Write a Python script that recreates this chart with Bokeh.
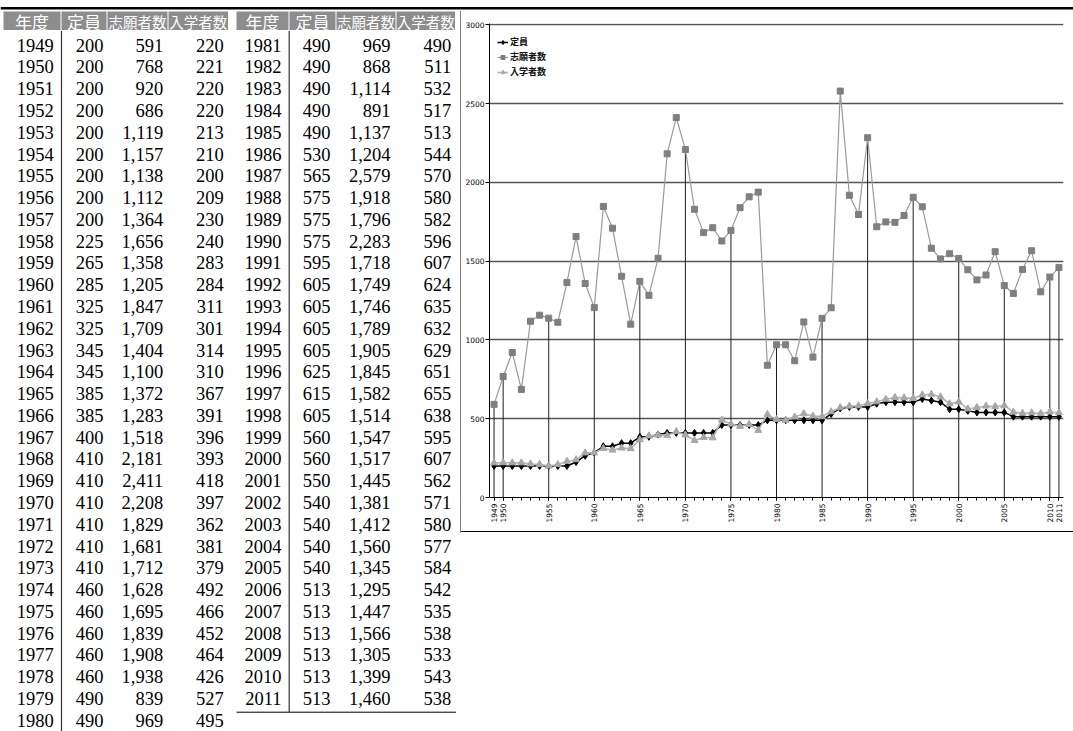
from math import pi

from bokeh.core.properties import value
from bokeh.embed import file_html
from bokeh.layouts import column, row
from bokeh.models import ColumnDataSource, Div, FixedTicker, Legend, LegendItem, Range1d
from bokeh.plotting import figure
from bokeh.resources import INLINE

# ---- data -------------------------------------------------------------
years = list(range(1949, 2012))
teiin = [200, 200, 200, 200, 200, 200, 200, 200, 200, 225, 265, 285, 325, 325, 345, 345,
         385, 385, 400, 410, 410, 410, 410, 410, 410, 460, 460, 460, 460, 460, 490, 490,
         490, 490, 490, 490, 490, 530, 565, 575, 575, 575, 595, 605, 605, 605, 605, 625,
         615, 605, 560, 560, 550, 540, 540, 540, 540, 513, 513, 513, 513, 513, 513]
shigan = [591, 768, 920, 686, 1119, 1157, 1138, 1112, 1364, 1656, 1358, 1205, 1847, 1709,
          1404, 1100, 1372, 1283, 1518, 2181, 2411, 2208, 1829, 1681, 1712, 1628, 1695,
          1839, 1908, 1938, 839, 969, 969, 868, 1114, 891, 1137, 1204, 2579, 1918, 1796,
          2283, 1718, 1749, 1746, 1789, 1905, 1845, 1582, 1514, 1547, 1517, 1445, 1381,
          1412, 1560, 1345, 1295, 1447, 1566, 1305, 1399, 1460]
nyugaku = [220, 221, 220, 220, 213, 210, 200, 209, 230, 240, 283, 284, 311, 301, 314, 310,
           367, 391, 396, 393, 418, 397, 362, 381, 379, 492, 466, 452, 464, 426, 527, 495,
           490, 511, 532, 517, 513, 544, 570, 580, 582, 596, 607, 624, 635, 632, 629, 651,
           655, 638, 595, 607, 562, 571, 580, 577, 584, 542, 535, 538, 533, 543, 538]

headers = ["年度", "定員", "志願者数", "入学者数"]
series_names = ["定員", "志願者数", "入学者数"]
labeled_years = [1949, 1950, 1955, 1960, 1965, 1970, 1975, 1980, 1985, 1990, 1995,
                 2000, 2005, 2010, 2011]
y_ticks = [0, 500, 1000, 1500, 2000, 2500, 3000]

# ---- page geometry ----------------------------------------------------
PAGE_W, PAGE_H = 1073, 731
TOP_H = 10
TABLE_W = 461
CHART_W = PAGE_W - TABLE_W
CHART_H = 521

SERIF = value("Liberation Serif")
GOTHIC = value("Noto Sans CJK JP")


def blank(width, height, x_end, y_start, y_end):
    f = figure(width=width, height=height, x_range=Range1d(0, x_end),
               y_range=Range1d(y_start, y_end), output_backend="svg",
               toolbar_location=None, x_axis_location=None, y_axis_location=None,
               min_border=0, outline_line_color=None)
    f.grid.visible = False
    return f


# ---- double rule across the top ---------------------------------------
top = blank(PAGE_W, TOP_H, PAGE_W, TOP_H, 0)
top.segment(x0=[0], x1=[PAGE_W], y0=[5.8], y1=[5.8], line_color="black", line_width=2.4)
top.segment(x0=[0], x1=[PAGE_W], y0=[9.5], y1=[9.5], line_color="black", line_width=1)

# ---- table ------------------------------------------------------------
tbl = blank(TABLE_W, PAGE_H - TOP_H, TABLE_W, PAGE_H, TOP_H)

halves = [
    dict(rows=range(0, 32), edges=[3, 61, 107, 168, 228.5],
         right=[53.3, 103, 162.7, 223.3], div_x=61, div_end=PAGE_H),
    dict(rows=range(32, 63), edges=[236, 289, 336, 396, 455.5],
         right=[281, 330, 390, 450.7], div_x=288.7, div_end=711.7),
]
ROW0, ROW_H = 44.6, 21.78
HDR_TOP, HDR_BOT, HDR_Y = 11, 29.5, 20.5

for h in halves:
    e = h["edges"]
    tbl.quad(left=e[:-1], right=[v - 1 for v in e[1:]], top=HDR_TOP, bottom=HDR_BOT,
             fill_color="#8d8d8d", line_color=None)
    centers = [(a + b - 1) / 2 for a, b in zip(e[:-1], e[1:])]
    tbl.text(x=centers[:2], y=HDR_Y, text=headers[:2], text_align="center",
             text_baseline="middle", text_color="white", text_font=GOTHIC,
             text_font_size="17px")
    tbl.text(x=centers[2:], y=HDR_Y, text=headers[2:], text_align="center",
             text_baseline="middle", text_color="white", text_font=GOTHIC,
             text_font_size="14.5px")
    idx = list(h["rows"])
    ys = [ROW0 + k * ROW_H for k in range(len(idx))]
    cols = [[str(years[i]) for i in idx],
            [f"{teiin[i]:,}" for i in idx],
            [f"{shigan[i]:,}" for i in idx],
            [f"{nyugaku[i]:,}" for i in idx]]
    for c, texts in enumerate(cols):
        src = ColumnDataSource(dict(x=[h["right"][c]] * len(texts), y=ys, t=texts))
        tbl.text(x="x", y="y", text="t", source=src, text_align="right",
                 text_baseline="middle", text_color="black", text_font=SERIF,
                 text_font_size="18.5px")
    tbl.segment(x0=[h["div_x"]], x1=[h["div_x"]], y0=[HDR_BOT + 1], y1=[h["div_end"]],
                line_color="#333333", line_width=1.2)

# closing rule under the right half, and the chart frame's left edge
tbl.segment(x0=[236], x1=[455.5], y0=[711.7], y1=[711.7], line_color="black", line_width=1)
tbl.segment(x0=[460.5], x1=[460.5], y0=[TOP_H], y1=[532], line_color="black", line_width=1)

# ---- chart ------------------------------------------------------------
p = figure(width=CHART_W, height=CHART_H, x_range=Range1d(1948.5, 2011.5),
           y_range=Range1d(0, 3008), output_backend="svg", toolbar_location=None,
           min_border_left=28, min_border_right=10, min_border_top=13,
           min_border_bottom=34, outline_line_color=None)

p.xgrid.visible = False
p.ygrid.ticker = FixedTicker(ticks=y_ticks)
p.ygrid.grid_line_color = "#555555"
p.ygrid.grid_line_width = 1.3

p.xaxis.ticker = FixedTicker(ticks=labeled_years, minor_ticks=years)
p.xaxis.major_label_orientation = pi / 2
p.xaxis.major_tick_in = 0
p.xaxis.major_tick_out = 3
p.xaxis.minor_tick_in = 0
p.xaxis.minor_tick_out = 3
p.xaxis.major_label_standoff = 3
p.yaxis.ticker = FixedTicker(ticks=y_ticks)
p.yaxis.major_tick_in = 0
p.yaxis.major_tick_out = 4
p.yaxis.minor_tick_line_color = None
p.yaxis.major_label_standoff = 1
for ax in (p.xaxis, p.yaxis):
    ax.axis_line_color = "black"
    ax.major_tick_line_color = "black"
    ax.major_label_text_font = "DejaVu Sans"
    ax.major_label_text_font_size = "7.5px"
    ax.major_label_text_color = "black"
p.xaxis.minor_tick_line_color = "black"

# drop lines at the labelled years, up to the highest of the three series
drop_x = list(labeled_years)
drop_top = [max(teiin[years.index(y)], shigan[years.index(y)], nyugaku[years.index(y)])
            for y in labeled_years]
p.segment(x0=drop_x, x1=drop_x, y0=[0] * len(drop_x), y1=drop_top,
          line_color="#1e1e1e", line_width=1)

r1l = p.line(years, teiin, line_color="black", line_width=1.5)
r1m = p.scatter(years, teiin, marker="diamond", size=7, fill_color="black",
                line_color="black")
r2l = p.line(years, shigan, line_color="#9a9a9a", line_width=1.2)
r2m = p.scatter(years, shigan, marker="square", size=6, fill_color="#7f7f7f",
                line_color="#7f7f7f")
r3l = p.line(years, nyugaku, line_color="#b5b5b5", line_width=1.6)
r3m = p.scatter(years, nyugaku, marker="triangle", size=7, fill_color="#a8a8a8",
                line_color="#a8a8a8")

frame_h = CHART_H - 13 - 34
legend = Legend(
    items=[LegendItem(label=series_names[0], renderers=[r1l, r1m]),
           LegendItem(label=series_names[1], renderers=[r2l, r2m]),
           LegendItem(label=series_names[2], renderers=[r3l, r3m])],
    location=(8, frame_h - 55), orientation="vertical",
    label_text_font="Noto Sans CJK JP", label_text_font_size="9px",
    label_text_font_style="bold", label_text_color="#111111", label_standoff=2,
    glyph_width=11, glyph_height=10, label_height=10, spacing=2,
    padding=0, margin=0, background_fill_alpha=0, border_line_color=None,
)
p.add_layout(legend)

# bottom edge of the chart box
bottom = Div(text="", width=CHART_W, height=1, margin=0,
             styles={"background-color": "#000000"})

layout = column(top, row(tbl, column(p, bottom)))

with open("out.html", "w") as fh:
    fh.write(file_html(layout, INLINE))
